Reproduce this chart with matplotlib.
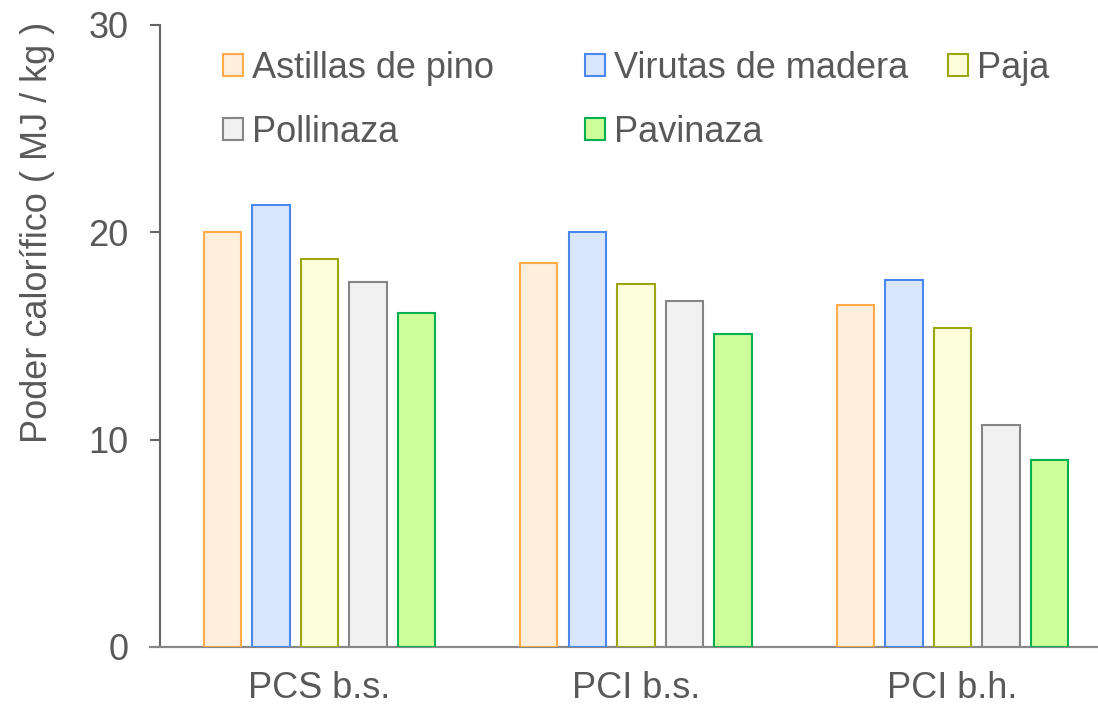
import matplotlib
matplotlib.use("Agg")
import matplotlib.pyplot as plt
from matplotlib.patches import Patch
import numpy as np

categories = ["PCS b.s.", "PCI b.s.", "PCI b.h."]
series_names = ["Astillas de pino", "Virutas de madera", "Paja", "Pollinaza", "Pavinaza"]
astillas = [20.0, 18.5, 16.5]
virutas = [21.3, 20.0, 17.7]
paja = [18.7, 17.5, 15.4]
pollinaza = [17.6, 16.7, 10.7]
pavinaza = [16.1, 15.1, 9.0]
yticks = [0, 10, 20, 30]

values = [astillas, virutas, paja, pollinaza, pavinaza]
faces = ["#FFEEDC", "#DAE6FB", "#FDFEDC", "#F1F1F1", "#CCFF99"]
edges = ["#FFAB4A", "#4A88F0", "#9CA60E", "#858585", "#00B050"]

plt.rcParams['font.family'] = ['Liberation Sans', 'DejaVu Sans']
text_col = "#595959"

fig = plt.figure(figsize=(10.98, 7.10), dpi=100)
ax = fig.add_axes([160/1098, 63/710, 938/1098, 622/710])

x = np.arange(len(categories))
step = 0.1535
width = 0.118
for i, (vals, fc, ec, name) in enumerate(zip(values, faces, edges, series_names)):
    ax.bar(x + (i - 2) * step, vals, width=width, facecolor=fc, edgecolor=ec,
           linewidth=1.5, label=name, zorder=3)

ax.set_xlim(-0.504, 2.46)
ax.set_ylim(0, 30)
ax.set_yticks(yticks)
ax.set_xticks(x)
ax.set_xticklabels(categories)

for s in ["top", "right"]:
    ax.spines[s].set_visible(False)
ax.spines["left"].set_color("#666666")
ax.spines["bottom"].set_color("#888888")
ax.spines["left"].set_linewidth(1.5)
ax.spines["bottom"].set_linewidth(1.5)
ax.tick_params(axis="y", direction="out", length=7.5, width=1.5, color="#666666",
               labelsize=26, labelcolor=text_col, pad=15)
ax.tick_params(axis="x", length=0, labelsize=26, labelcolor=text_col, pad=17)

# extend baseline left a bit like the reference
ax.axhline(0, xmin=-10/938, xmax=1, color="#888888", lw=1.5, clip_on=False, zorder=2)

ax.set_ylabel("Poder calorífico ( MJ / kg )", fontsize=26, color=text_col)
ax.yaxis.set_label_coords(-0.112, 0.666)

handles = [Patch(facecolor=fc, edgecolor=ec, linewidth=1.5) for fc, ec in zip(faces, edges)]
cols = [[0, 3], [1, 4], [2]]
col_x = [223, 585, 948]
for cx, idxs in zip(col_x, cols):
    leg = fig.legend([handles[k] for k in idxs], [series_names[k] for k in idxs],
                     loc="upper left", bbox_to_anchor=(cx/1098, 1 - 51/710),
                     frameon=False, fontsize=26, handlelength=0.55, handleheight=0.55,
                     handletextpad=0.25, labelspacing=0.8, borderpad=0, borderaxespad=0)
    for t in leg.get_texts():
        t.set_color(text_col)

fig.savefig("out.png", dpi=100)
